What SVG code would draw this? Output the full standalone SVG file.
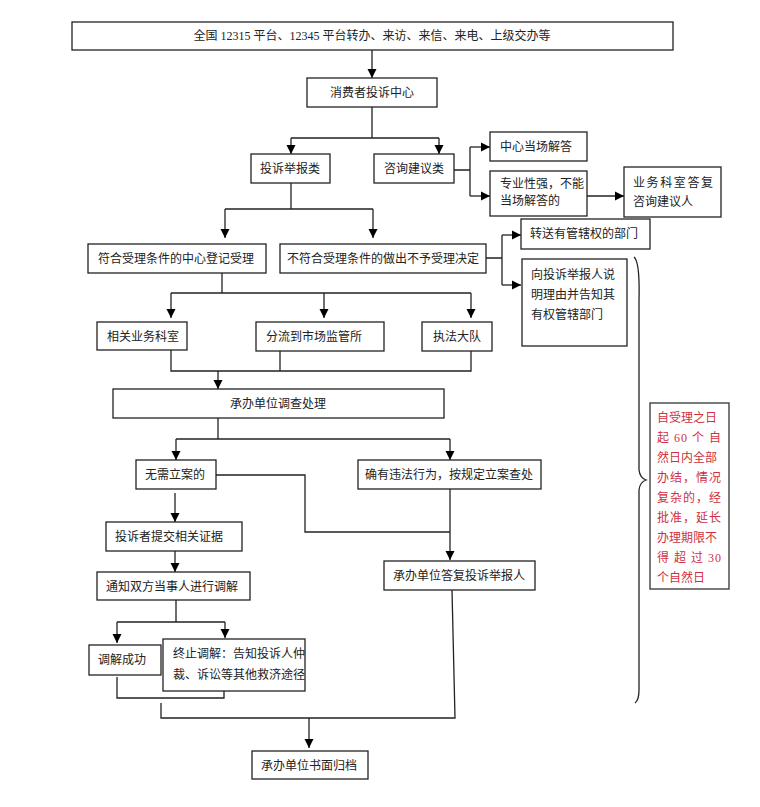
<svg xmlns="http://www.w3.org/2000/svg" width="760" height="807" viewBox="0 0 760 807">
<defs><marker id="a" viewBox="0 0 10 10" refX="10" refY="5" markerWidth="7" markerHeight="7" orient="auto"><path d="M0,0L10,5L0,10z" fill="#000"/></marker></defs>
<style>
rect{fill:#fff;stroke:#222;stroke-width:1.3}
text{font-family:"Liberation Serif","Noto Sans CJK SC",serif;font-size:12px;fill:#222}
.c{text-anchor:middle}
.r{fill:#d03040}
#conn path{fill:none;stroke:#222;stroke-width:1.3}
.m{marker-end:url(#a)}
</style>
<rect width="760" height="807" style="fill:#fff;stroke:none"/>
<g id="conn">
<path class="m" d="M372,50V78"/>
<path d="M372,107V138M291,138H439"/>
<path class="m" d="M291,138V154"/><path class="m" d="M439,138V154"/>
<path d="M454,170H470M470,147V196"/>
<path class="m" d="M470,147H490"/><path class="m" d="M470,196H490"/>
<path class="m" d="M587,196H624"/>
<path d="M291,183V209M225,209H373"/>
<path class="m" d="M225,209V238"/><path class="m" d="M373,209V238"/>
<path d="M486,258H502M502,235V285"/>
<path class="m" d="M502,235H521"/><path class="m" d="M502,285H521"/>
<path d="M222,273V293M171,293H471"/>
<path class="m" d="M171,293V318"/><path class="m" d="M324,293V318"/><path class="m" d="M471,293V318"/>
<path d="M171,350V371H471V351M280,351V371"/>
<path class="m" d="M218,371V389"/>
<path d="M218,418V439M176,439H450"/>
<path class="m" d="M176,439V460"/><path class="m" d="M450,439V460"/>
<path d="M216,475H305V532H450"/>
<path class="m" d="M450,489V560"/>
<path class="m" d="M175,493V522"/>
<path class="m" d="M175,551V572"/>
<path d="M176,600V622M117,622H225"/>
<path class="m" d="M117,622V643"/><path class="m" d="M225,622V638"/>
<path d="M117,677V698H224V691"/>
<path d="M161,703V718H455L452,590"/>
<path class="m" d="M309,718V748"/>
<path d="M634,257Q640,262 639,300V470Q640,478 646,480Q640,482 639,490V690Q639,700 635,703"/>
</g>
<g id="n1"><rect x="72" y="22" width="601" height="28"/><text class="c" x="372" y="40">全国 12315 平台、12345 平台转办、来访、来信、来电、上级交办等</text></g>
<g id="n2"><rect x="307" y="78" width="130" height="29"/><text class="c" x="372" y="97">消费者投诉中心</text></g>
<g id="n3"><rect x="251" y="154" width="79" height="29"/><text class="c" x="290" y="173">投诉举报类</text></g>
<g id="n4"><rect x="374" y="154" width="80" height="29"/><text class="c" x="414" y="173">咨询建议类</text></g>
<g id="n5"><rect x="490" y="132" width="97" height="29"/><text x="500" y="151">中心当场解答</text></g>
<g id="n6"><rect x="490" y="171" width="97" height="45"/><text x="500" y="188">专业性强，不能</text><text x="500" y="205">当场解答的</text></g>
<g id="n7"><rect x="624" y="167" width="97" height="50"/><text x="633" y="187" textLength="80">业务科室答复</text><text x="633" y="206">咨询建议人</text></g>
<g id="n8"><rect x="88" y="244" width="178" height="29"/><text x="98" y="263">符合受理条件的中心登记受理</text></g>
<g id="n9"><rect x="280" y="244" width="206" height="29"/><text class="c" x="383" y="263">不符合受理条件的做出不予受理决定</text></g>
<g id="n10"><rect x="521" y="219" width="129" height="30"/><text x="530" y="238">转送有管辖权的部门</text></g>
<g id="n11"><rect x="522" y="259" width="105" height="87"/><text x="531" y="279">向投诉举报人说</text><text x="531" y="299">明理由并告知其</text><text x="531" y="319">有权管辖部门</text></g>
<g id="n12"><rect x="97" y="322" width="90" height="28"/><text x="107" y="341">相关业务科室</text></g>
<g id="n13"><rect x="256" y="322" width="128" height="29"/><text x="266" y="341">分流到市场监管所</text></g>
<g id="n14"><rect x="422" y="322" width="70" height="29"/><text class="c" x="457" y="341">执法大队</text></g>
<g id="n15"><rect x="113" y="389" width="331" height="29"/><text class="c" x="278" y="408">承办单位调查处理</text></g>
<g id="n16"><rect x="136" y="460" width="80" height="29"/><text x="145" y="479">无需立案的</text></g>
<g id="n17"><rect x="358" y="460" width="183" height="29"/><text class="c" x="449" y="479">确有违法行为，按规定立案查处</text></g>
<g id="n18"><rect x="106" y="522" width="136" height="29"/><text x="115" y="541">投诉者提交相关证据</text></g>
<g id="n19"><rect x="97" y="572" width="153" height="28"/><text x="106" y="591">通知双方当事人进行调解</text></g>
<g id="n20"><rect x="384" y="561" width="151" height="29"/><text x="393" y="580">承办单位答复投诉举报人</text></g>
<g id="n21"><rect x="89" y="645" width="72" height="30"/><text x="98" y="664">调解成功</text></g>
<g id="n22"><rect x="163" y="639" width="142" height="52"/><text x="173" y="658">终止调解：告知投诉人仲</text><text x="173" y="679">裁、诉讼等其他救济途径</text></g>
<g id="n23"><rect x="252" y="751" width="116" height="28"/><text x="261" y="770">承办单位书面归档</text></g>
<g id="n24"><rect x="650" y="403" width="79" height="186" style="stroke:#333"/>
<text class="r" x="657" y="422">自受理之日</text>
<text class="r" x="657" y="442" textLength="64">起 60 个 自</text>
<text class="r" x="657" y="462">然日内全部</text>
<text class="r" x="657" y="482" textLength="64">办结，情况</text>
<text class="r" x="657" y="502" textLength="64">复杂的，经</text>
<text class="r" x="657" y="522" textLength="64">批准，延长</text>
<text class="r" x="657" y="542">办理期限不</text>
<text class="r" x="657" y="562" textLength="64">得 超 过 30</text>
<text class="r" x="657" y="582">个自然日</text></g>
</svg>
